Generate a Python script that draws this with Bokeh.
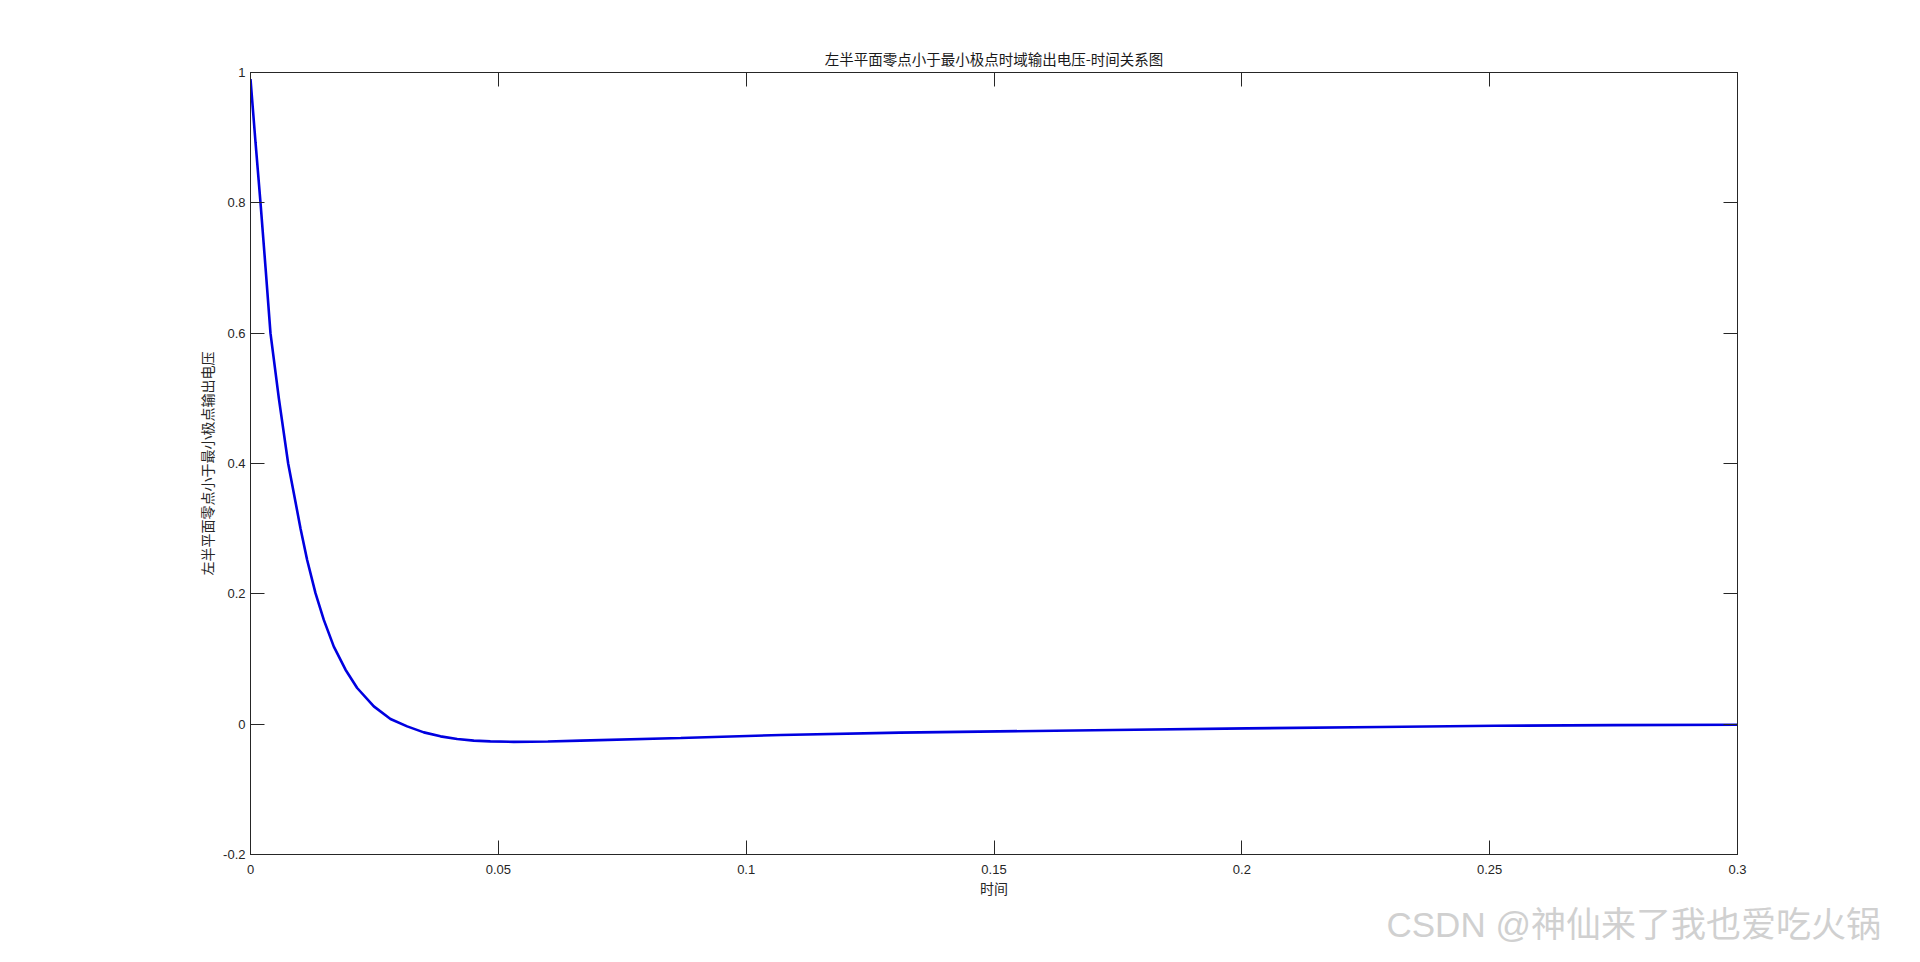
from bokeh.plotting import figure
from bokeh.models import LinearAxis, Range1d, FixedTicker, Title
from bokeh.embed import file_html
from bokeh.resources import INLINE

# ---- data ----
t_values = [0.0, 0.00101, 0.00202, 0.00303, 0.00403, 0.00572, 0.0076, 0.0101,
            0.01143, 0.01311, 0.01479, 0.01681, 0.01917, 0.02152, 0.02488, 0.02824,
            0.03161, 0.03497, 0.03833, 0.0417, 0.04505, 0.0484, 0.0531, 0.0600,
            0.0666, 0.0868, 0.107, 0.131, 0.147, 0.174, 0.201, 0.228, 0.251,
            0.275, 0.3]
v_values = [0.99, 0.893, 0.80, 0.701, 0.60, 0.50, 0.40, 0.30,
            0.252, 0.201, 0.160, 0.119, 0.0836, 0.0555, 0.0273, 0.0080,
            -0.0034, -0.0126, -0.0187, -0.0227, -0.0253, -0.0264, -0.0272, -0.0266,
            -0.0253, -0.0212, -0.0166, -0.013, -0.0115, -0.0089, -0.0064, -0.0043, -0.0025,
            -0.0015, -0.001]

x_ticks = [0, 0.05, 0.1, 0.15, 0.2, 0.25, 0.3]
x_tick_labels = ["0", "0.05", "0.1", "0.15", "0.2", "0.25", "0.3"]
y_ticks = [-0.2, 0, 0.2, 0.4, 0.6, 0.8, 1]
y_tick_labels = ["-0.2", "0", "0.2", "0.4", "0.6", "0.8", "1"]

title_text = "左半平面零点小于最小极点时域输出电压-时间关系图"
x_label = "时间"
y_label = "左半平面零点小于最小极点输出电压"
watermark = "CSDN @神仙来了我也爱吃火锅"

AX = "#262626"
CJK = "Noto Sans CJK SC"
LAT = "Liberation Sans"
WM_FONT = "Liberation Sans, Noto Sans CJK SC"

p = figure(width=1904, height=946, output_backend="svg", toolbar_location=None,
           x_range=Range1d(0, 0.3), y_range=Range1d(-0.2, 1),
           min_border_left=250, min_border_right=167, min_border_top=72,
           min_border_bottom=91, x_axis_label=x_label, y_axis_label=y_label)
p.background_fill_color = "white"
p.border_fill_color = "white"
p.grid.visible = False
p.outline_line_color = AX
p.outline_line_width = 1

# extra mirrored axes (top/right) with inward ticks, no labels
p.add_layout(LinearAxis(), "above")
p.add_layout(LinearAxis(), "right")

for ax in p.xaxis:
    ax.ticker = FixedTicker(ticks=x_ticks)
    ax.major_label_overrides = {tk: lb for tk, lb in zip(x_ticks, x_tick_labels)}
for ax in p.yaxis:
    ax.ticker = FixedTicker(ticks=y_ticks)
    ax.major_label_overrides = {tk: lb for tk, lb in zip(y_ticks, y_tick_labels)}

for ax in p.axis:
    ax.axis_line_color = AX
    ax.axis_line_width = 1
    ax.major_tick_line_color = AX
    ax.major_tick_line_width = 1
    ax.major_tick_in = 14
    ax.major_tick_out = 0
    ax.minor_tick_line_color = None
    ax.major_label_text_font = LAT
    ax.major_label_text_font_size = "13px"
    ax.major_label_text_color = AX
    ax.axis_label_text_font = CJK
    ax.axis_label_text_font_size = "14px"
    ax.axis_label_text_font_style = "normal"
    ax.axis_label_text_color = AX

for ax in (p.above[0], p.right[0]):
    ax.major_label_text_font_size = "0px"
    ax.major_label_text_alpha = 0
    ax.major_label_standoff = 0

p.below[0].major_label_standoff = 10
p.below[0].axis_label_standoff = 1
p.left[0].major_label_standoff = 5
p.left[0].axis_label_standoff = 3

p.line(t_values, v_values, line_color="#0000E0", line_width=2.6)

# title
p.title = Title(text=title_text, align="center", text_font=CJK,
                text_font_size="14.5px", text_font_style="normal",
                text_color="#1a1a1a", standoff=8)

# watermark
p.add_layout(Title(text=watermark, align="left", offset=1136, text_font=WM_FONT,
                   text_font_size="35px", text_font_style="normal",
                   text_color="#d0d0d0", standoff=5), "below")

open("out.html", "w").write(file_html(p, INLINE))
